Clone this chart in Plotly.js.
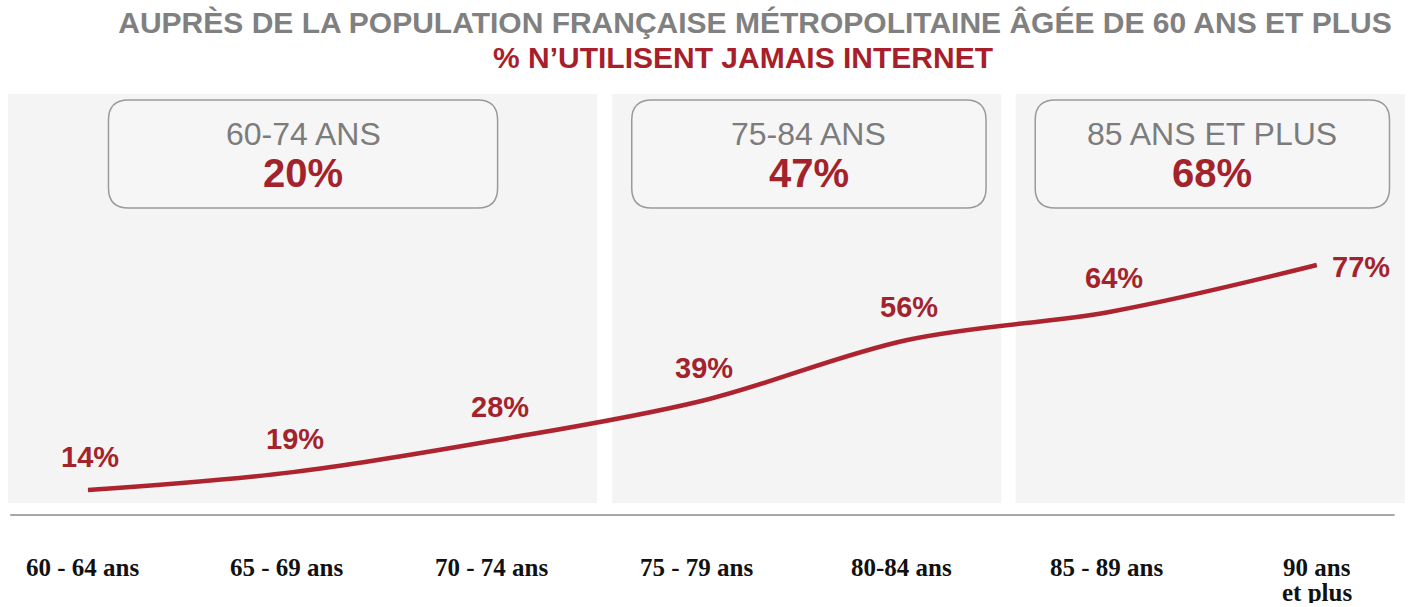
<!DOCTYPE html>
<html>
<head>
<meta charset="utf-8">
<script src="https://cdn.plot.ly/plotly-3.0.1.min.js"></script>
<style>html,body{margin:0;padding:0;background:#fff;}#chart{width:1408px;height:607px;}</style>
</head>
<body>
<div id="chart"></div>
<script>
// ---- data ----
const categories = ['60 - 64 ans', '65 - 69 ans', '70 - 74 ans', '75 - 79 ans', '80-84 ans', '85 - 89 ans', '90 ans<br>et plus'];
const values = [14, 19, 28, 39, 56, 64, 77];
const groupNames = ['60-74 ANS', '75-84 ANS', '85 ANS ET PLUS'];
const groupValues = [20, 47, 68];
const groupStart = [0, 3, 5];
const groupEnd = [2, 4, 6];
const titleLine1 = 'AUPRÈS DE LA POPULATION FRANÇAISE MÉTROPOLITAINE ÂGÉE DE 60 ANS ET PLUS';
const titleLine2 = '% N\u2019UTILISENT JAMAIS INTERNET';

// ---- styles ----
const RED = '#ad2430';
const LABEL_RED = '#a3232c';
const GREY_TXT = '#7c7c7c';
const PANEL_BG = '#f4f4f4';
const SANS = 'Liberation Sans, Arial, sans-serif';
const SERIF = 'Liberation Serif, Times New Roman, serif';
const W = 1408, H = 607;
const PLOT_TOP = 90, PLOT_BOTTOM = 515;
const PLOT_H = PLOT_BOTTOM - PLOT_TOP;
const XPX = 204.8; // pixels per category step
const py = px => (PLOT_BOTTOM - px) / PLOT_H; // pixel row -> paper y

const xs = categories.map((_, i) => i);

function rrect(x0, x1, y0, y1, rx, ry) {
  return `M ${x0 + rx},${y0} L ${x1 - rx},${y0} Q ${x1},${y0} ${x1},${y0 + ry} ` +
         `L ${x1},${y1 - ry} Q ${x1},${y1} ${x1 - rx},${y1} L ${x0 + rx},${y1} ` +
         `Q ${x0},${y1} ${x0},${y1 - ry} L ${x0},${y0 + ry} Q ${x0},${y0} ${x0 + rx},${y0} Z`;
}

const shapes = [];
const annotations = [];

// group panels and boxes
const panelPadL = [0.39, 0.44, 0.47];
const panelPadR = [0.485, 0.46, 0.43];
const boxHalf = [0.95, 0.865, 0.865];
const boxCenterShift = [0.05, 0.02, -0.01];
groupNames.forEach((g, k) => {
  shapes.push({
    type: 'rect', layer: 'below', xref: 'x', yref: 'paper',
    x0: groupStart[k] - panelPadL[k], x1: groupEnd[k] + panelPadR[k],
    y0: py(503), y1: py(94),
    fillcolor: PANEL_BG, line: {width: 0}
  });
  const c = (groupStart[k] + groupEnd[k]) / 2 + boxCenterShift[k];
  const bx0 = c - boxHalf[k], bx1 = c + boxHalf[k];
  shapes.push({
    type: 'path', layer: 'below', xref: 'x', yref: 'paper',
    path: rrect(bx0, bx1, py(208), py(100), 20 / XPX, 20 / PLOT_H),
    fillcolor: '#f6f6f6', line: {color: '#9a9a9a', width: 1.5}
  });
  annotations.push({
    xref: 'x', yref: 'paper', x: c, y: py(134), text: g, showarrow: false,
    xanchor: 'center', yanchor: 'middle',
    font: {family: SANS, size: 32, color: GREY_TXT}
  });
  annotations.push({
    xref: 'x', yref: 'paper', x: c, y: py(173), text: groupValues[k] + '%', showarrow: false,
    xanchor: 'center', yanchor: 'middle',
    font: {family: SANS, size: 40, color: LABEL_RED, weight: 700}
  });
});

// baseline rule
shapes.push({
  type: 'line', xref: 'x', yref: 'paper', x0: -0.38, x1: 6.38, y0: 0, y1: 0,
  line: {color: '#a8a8a8', width: 2}
});

// data labels
values.forEach((v, i) => {
  const last = i === values.length - 1;
  annotations.push({
    xref: 'x', yref: 'y', x: xs[i], y: v, text: v + '%', showarrow: false,
    xanchor: last ? 'left' : 'center', yanchor: 'middle',
    xshift: last ? 13 : 2, yshift: last ? -2 : 33,
    font: {family: SANS, size: 29, color: LABEL_RED, weight: 700}
  });
});

// category labels (multi-line split with tight leading)
categories.forEach((c, i) => {
  c.split('<br>').forEach((line, j) => {
    annotations.push({
      xref: 'x', yref: 'paper', x: xs[i], y: py(567), text: line, showarrow: false,
      xanchor: 'center', yanchor: 'middle', xshift: i === categories.length - 1 ? 0 : -6,
      yshift: -25 * j, height: 22,
      font: {family: SERIF, size: 25, color: '#111111', weight: 700}
    });
  });
});

// second title line
annotations.push({
  xref: 'paper', yref: 'paper', x: 743 / W, y: py(57), text: titleLine2, showarrow: false,
  xanchor: 'center', yanchor: 'middle',
  font: {family: SANS, size: 30, color: '#a81e2a', weight: 700}
});

const trace = {
  x: xs, y: values, type: 'scatter', mode: 'lines',
  line: {color: RED, width: 4.5, shape: 'spline', smoothing: 1},
  hoverinfo: 'skip', showlegend: false
};

const layout = {
  width: W, height: H,
  margin: {l: 0, r: 0, t: PLOT_TOP, b: H - PLOT_BOTTOM},
  paper_bgcolor: '#ffffff', plot_bgcolor: '#ffffff',
  title: {
    text: titleLine1, x: 755 / W, xanchor: 'center', xref: 'paper',
    y: 1 - 12 / H, yanchor: 'top',
    font: {family: SANS, size: 30, color: '#808080', weight: 700}
  },
  xaxis: {
    range: [-88 / XPX, (W - 88) / XPX], showgrid: false, zeroline: false,
    showline: false, showticklabels: false, ticks: '', fixedrange: true
  },
  yaxis: {
    range: [7, 126], showgrid: false, zeroline: false, showline: false,
    showticklabels: false, ticks: '', fixedrange: true
  },
  shapes: shapes,
  annotations: annotations,
  showlegend: false
};

Plotly.newPlot('chart', [trace], layout, {displayModeBar: false, staticPlot: true});
</script>
</body>
</html>
